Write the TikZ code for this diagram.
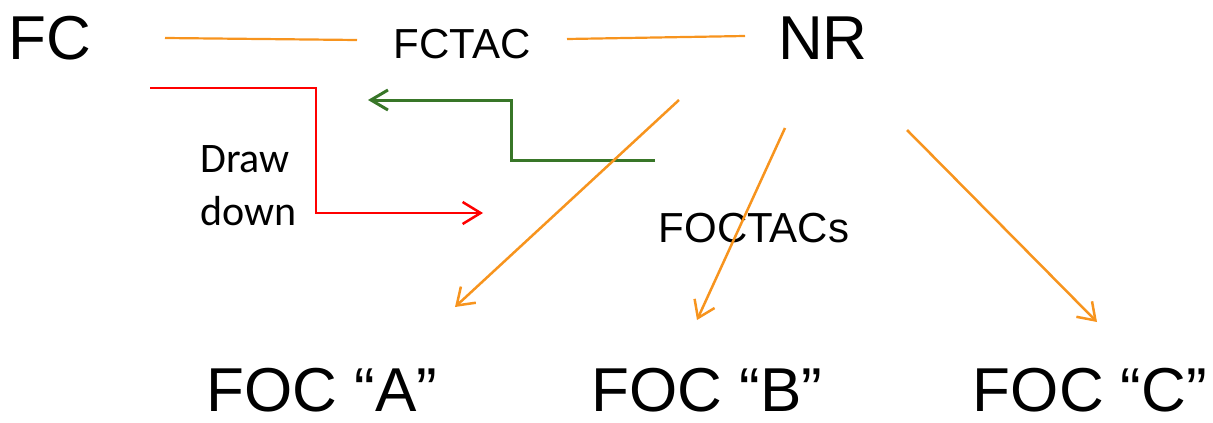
\documentclass[tikz,border=0pt]{standalone}
\usepackage{fontspec}
\setmainfont{Liberation Sans}
\newfontfamily\calib{Carlito}
\usetikzlibrary{arrows.meta}
\definecolor{orng}{RGB}{247,148,30}
\definecolor{grn}{RGB}{56,118,40}
\tikzset{
  big/.style={inner sep=0pt, anchor=base, text depth=0pt, font=\fontsize{62}{74}\selectfont},
  mid/.style={inner sep=0pt, anchor=base, font=\fontsize{42}{50}\selectfont},
  lbl/.style={inner sep=0pt, anchor=base west, font=\calib\fontsize{42}{52}\selectfont},
  oline/.style={draw=orng, line width=2.2pt},
  oarrow/.style={draw=orng, line width=2.5pt, -{Straight Barb[length=16pt,width=22pt,line width=2.5pt]}},
  rarrow/.style={draw=red, line width=2.5pt, -{Straight Barb[length=18pt,width=22pt,line width=2.5pt]}},
  garrow/.style={draw=grn, line width=3pt, -{Straight Barb[length=17pt,width=20pt,line width=3pt]}}
}
\begin{document}
\begin{tikzpicture}[x=1pt,y=-1pt]
\useasboundingbox (0,0) rectangle (1213,423);
\node[big] (fc) at (50,59) {FC};
\node[mid] (fctac) at (462,58) {FCTAC};
\node[big] (nr) at (823,59) {NR};
\node[lbl] (draw) at (200,172) {Draw};
\node[lbl] (down) at (200,225) {down};
\node[mid] (foctacs) at (754,242) {FOCTACs};
\node[big] (foca) at (322,411) {FOC “A”};
\node[big] (focb) at (707,411) {FOC “B”};
\node[big] (focc) at (1090,411) {FOC “C”};
% connector end points
\coordinate (l1a) at (165,38);
\coordinate (l1b) at (357,40);
\coordinate (l2a) at (567,39);
\coordinate (l2b) at (745,36);
\coordinate (ra) at (150,88);
\coordinate (rb) at (316,88);
\coordinate (rc) at (316,213);
\coordinate (rd) at (483,213);
\coordinate (ga) at (655,160);
\coordinate (gb) at (511,160);
\coordinate (gc) at (511,100);
\coordinate (gd) at (368,100);
\coordinate (a1s) at (679,100);
\coordinate (a1e) at (455,307);
\coordinate (a2s) at (785,128);
\coordinate (a2e) at (697,320);
\coordinate (a3s) at (907,130);
\coordinate (a3e) at (1097,322);
\draw[oline] (l1a) -- (l1b);
\draw[oline] (l2a) -- (l2b);
\draw[rarrow] (ra) -- (rb) -- (rc) -- (rd);
\draw[garrow] (ga) -- (gb) -- (gc) -- (gd);
\draw[oarrow] (a1s) -- (a1e);
\draw[oarrow] (a2s) -- (a2e);
\draw[oarrow] (a3s) -- (a3e);
\end{tikzpicture}
\end{document}
